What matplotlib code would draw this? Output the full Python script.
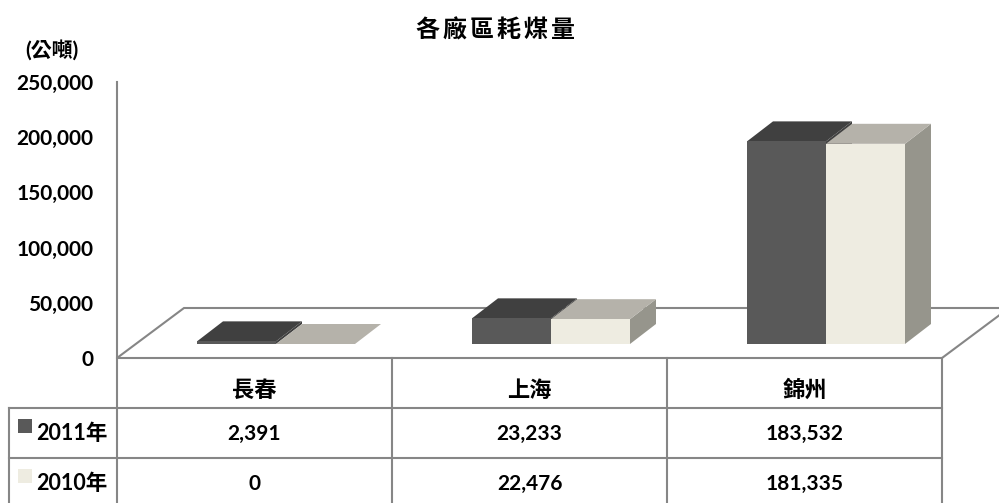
import matplotlib
matplotlib.use('Agg')
import matplotlib.pyplot as plt
from matplotlib.lines import Line2D
from matplotlib.patches import Polygon, Rectangle
import numpy as np

plt.rcParams['font.family'] = ['Lato', 'Noto Sans CJK TC', 'DejaVu Sans']

categories = ['長春', '上海', '錦州']
series_names = ['2011年', '2010年']
values_2011 = [2391, 23233, 183532]
values_2010 = [0, 22476, 181335]
y_ticks = [0, 50000, 100000, 150000, 200000, 250000]

W, H = 999, 503
GRID = '#868686'
FACES = [('#595959', '#404040', '#404040'), ('#EEECE1', '#B5B2AA', '#96958C')]

fig = plt.figure(figsize=(W / 100, H / 100), dpi=100)
# 坐标轴: 左边 x=117, 右边 x=942, 0 在 y=358, 250000 在 y=82
ax = fig.add_axes([117 / W, 1 - 358 / H, 825 / W, 276 / H])
ax.set_xlim(0, 3)
ax.set_ylim(0, 250000)
px_x = 3 / 825
px_y = 250000 / 276


def fig_line(x0, y0, x1, y1):
    fig.add_artist(Line2D([x0 / W, x1 / W], [1 - y0 / H, 1 - y1 / H], color=GRID, lw=1.5))


def fig_text(x, y, s, size=15, ha='center'):
    fig.text(x / W, 1 - y / H, s, fontsize=size, fontweight='bold', ha=ha, va='center', color='black')


# 地板
floor_dx = 67 * px_x
floor_dy = 50 * px_y
ax.add_patch(Polygon([(0, 0), (3, 0), (3 + floor_dx, floor_dy), (floor_dx, floor_dy)],
                     closed=True, facecolor='white', edgecolor=GRID, lw=1.5, clip_on=False, zorder=1))

# 立体柱子
bar_w = 79 * px_x
dx = 26 * px_x
dy = 20 * px_y
base = 14 * px_y
centers = np.arange(3) + 159 * px_x


def draw_bar(x, val, faces):
    front, top, side = faces
    y0, y1 = base, base + val
    # 侧面放最下层，2011 的侧面要被 2010 挡住
    ax.add_patch(Polygon([(x + bar_w, y0), (x + bar_w + dx, y0 + dy), (x + bar_w + dx, y1 + dy), (x + bar_w, y1)],
                         closed=True, facecolor=side, lw=0, clip_on=False, zorder=2))
    ax.add_patch(Polygon([(x, y1), (x + bar_w, y1), (x + bar_w + dx, y1 + dy), (x + dx, y1 + dy)],
                         closed=True, facecolor=top, lw=0, clip_on=False, zorder=3))
    ax.add_patch(Rectangle((x, y0), bar_w, val, facecolor=front, lw=0, clip_on=False, zorder=4))


for c, v11, v10 in zip(centers, values_2011, values_2010):
    draw_bar(c, v10, FACES[1])
    draw_bar(c - bar_w, v11, FACES[0])

# y 轴
for s in ['top', 'right', 'bottom']:
    ax.spines[s].set_visible(False)
ax.spines['left'].set_color(GRID)
ax.spines['left'].set_linewidth(1.5)
ax.patch.set_alpha(0)
ax.set_xticks([])
ax.set_yticks(y_ticks)
ax.set_yticklabels([f'{t:,}' for t in y_ticks], fontsize=15, fontweight='bold')
ax.tick_params(axis='y', length=0, pad=17)

fig_text(495, 30, '\u2009'.join('各廠區耗煤量'), size=17.3)
fig_text(52, 50, '(公噸)', size=15)

# 下面的数据表
col_x = [117, 392, 667, 942]
fig_line(117, 358, 117, 503)
for x in col_x[1:]:
    fig_line(x, 358, x, 503)
fig_line(9, 408, 9, 503)
fig_line(9, 408, 942, 408)
fig_line(9, 458, 942, 458)

row_y = [433, 483]
for i, name in enumerate(categories):
    center = (col_x[i] + col_x[i + 1]) / 2
    fig_text(center, 390, name, size=16)
    fig_text(center, row_y[0] + 1, f'{values_2011[i]:,}')
    fig_text(center, row_y[1] + 1, f'{values_2010[i]:,}')

for name, y, faces in zip(series_names, row_y, FACES):
    fig_text(36, y + 1, name, ha='left', size=15.5)
    fig.add_artist(Rectangle((18 / W, 1 - (y + 0) / H), 14 / W, 14 / H, facecolor=faces[0], lw=0,
                             transform=fig.transFigure))

fig.savefig('out.png', dpi=100)
